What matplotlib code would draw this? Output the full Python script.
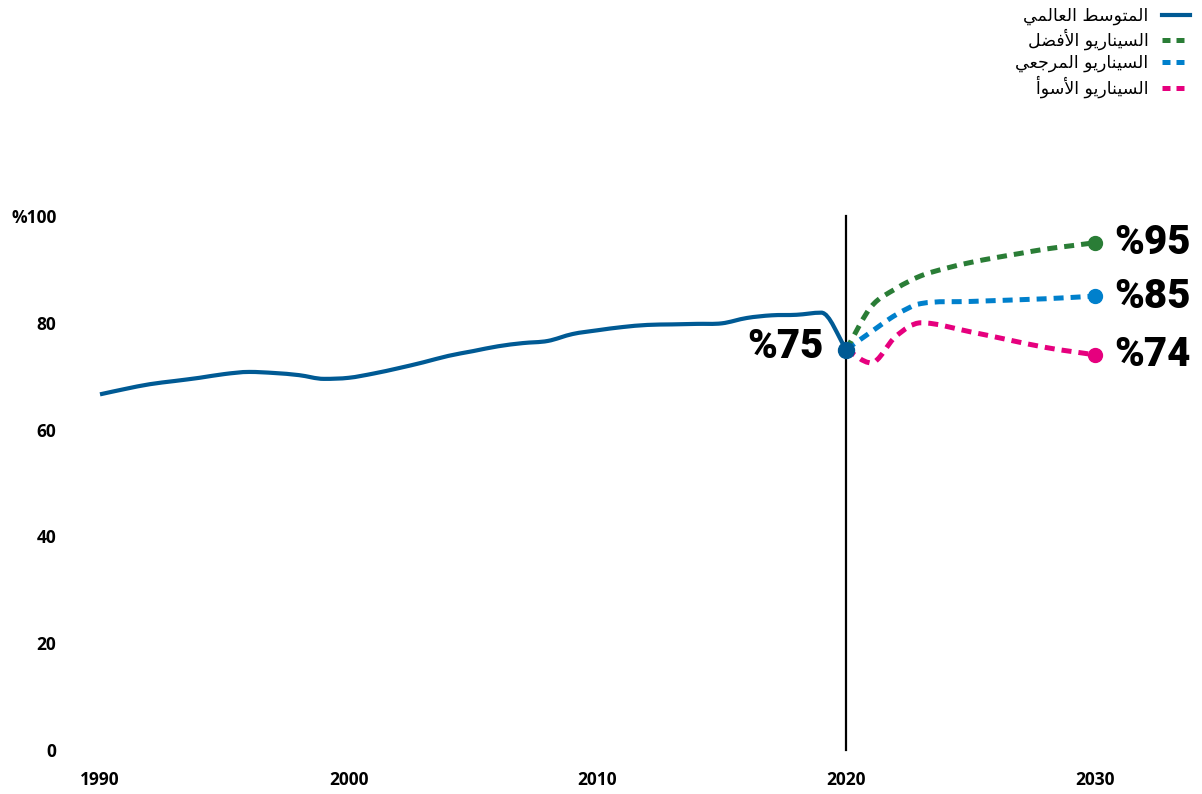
import matplotlib
matplotlib.use("Agg")
import matplotlib.pyplot as plt
from matplotlib.lines import Line2D
from matplotlib.path import Path
from matplotlib.patches import PathPatch
from matplotlib import font_manager

# ---------------- data ----------------
years = list(range(1990, 2021))
world_avg = [66.6, 67.6, 68.5, 69.1, 69.7, 70.4, 70.8, 70.6, 70.2, 69.5,
             69.7, 70.5, 71.5, 72.6, 73.8, 74.7, 75.6, 76.2, 76.6, 77.9,
             78.6, 79.2, 79.6, 79.7, 79.8, 79.9, 80.9, 81.4, 81.5, 81.9,
             75]

best_years = [2020, 2021, 2022, 2023, 2024, 2025, 2026, 2027, 2028, 2029, 2030]
best_vals = [75, 83.0, 86.4, 88.8, 90.2, 91.3, 92.2, 93.0, 93.8, 94.4, 95]

ref_years = [2020, 2021, 2022, 2023, 2025, 2028, 2030]
ref_vals = [75, 78.3, 81.5, 83.6, 84.0, 84.5, 85]

worst_years = [2020, 2021, 2022, 2023, 2025, 2028, 2030]
worst_vals = [75, 72.5, 77.5, 80.0, 78.3, 75.4, 74]

y_ticks = [0, 20, 40, 60, 80, 100]
y_tick_labels = ["0", "20", "40", "60", "80", "%100"]
x_ticks = [1990, 2000, 2010, 2020, 2030]

labels = ["المتوسط العالمي", "السيناريو الأفضل",
          "السيناريو المرجعي", "السيناريو الأسوأ"]

c_avg = "#005a94"
c_best = "#2a7d36"
c_ref = "#0080cc"
c_worst = "#e6007e"

# ---------------- Arabic shaping (presentation forms + visual order) ----------------
FORMS = {  # isolated, final, initial, medial
    "\u0627": ("\uFE8D", "\uFE8E", None, None),
    "\u0623": ("\uFE83", "\uFE84", None, None),
    "\u062A": ("\uFE95", "\uFE96", "\uFE97", "\uFE98"),
    "\u062C": ("\uFE9D", "\uFE9E", "\uFE9F", "\uFEA0"),
    "\u0631": ("\uFEAD", "\uFEAE", None, None),
    "\u0633": ("\uFEB1", "\uFEB2", "\uFEB3", "\uFEB4"),
    "\u0636": ("\uFEBD", "\uFEBE", "\uFEBF", "\uFEC0"),
    "\u0637": ("\uFEC1", "\uFEC2", "\uFEC3", "\uFEC4"),
    "\u0639": ("\uFEC9", "\uFECA", "\uFECB", "\uFECC"),
    "\u0641": ("\uFED1", "\uFED2", "\uFED3", "\uFED4"),
    "\u0644": ("\uFEDD", "\uFEDE", "\uFEDF", "\uFEE0"),
    "\u0645": ("\uFEE1", "\uFEE2", "\uFEE3", "\uFEE4"),
    "\u0646": ("\uFEE5", "\uFEE6", "\uFEE7", "\uFEE8"),
    "\u0648": ("\uFEED", "\uFEEE", None, None),
    "\u064A": ("\uFEF1", "\uFEF2", "\uFEF3", "\uFEF4"),
}
LAM_ALEF = {"\u0627": ("\uFEFB", "\uFEFC"), "\u0623": ("\uFEF7", "\uFEF8")}


def dual(ch):
    return ch in FORMS and FORMS[ch][2] is not None


def shape(text):
    out = []
    chars = list(text)
    i = 0
    while i < len(chars):
        ch = chars[i]
        prev = chars[i - 1] if i > 0 else None
        joins_prev = prev is not None and dual(prev)
        if ch == "\u0644" and i + 1 < len(chars) and chars[i + 1] in LAM_ALEF:
            iso, fin = LAM_ALEF[chars[i + 1]]
            out.append(fin if joins_prev else iso)
            i += 2
            continue
        if ch not in FORMS:
            out.append(ch)
            i += 1
            continue
        nxt = chars[i + 1] if i + 1 < len(chars) else None
        joins_next = dual(ch) and nxt is not None and nxt in FORMS
        iso, fin, ini, med = FORMS[ch]
        if joins_prev and joins_next:
            out.append(med)
        elif joins_prev:
            out.append(fin)
        elif joins_next:
            out.append(ini)
        else:
            out.append(iso)
        i += 1
    return "".join(reversed(out))


def smooth_path(xs, ys):
    """Monotone cubic curve through the data points, as Bezier segments."""
    n = len(xs)
    slopes = []
    for i in range(n):
        if i == 0:
            m = (ys[1] - ys[0]) / (xs[1] - xs[0])
        elif i == n - 1:
            m = (ys[-1] - ys[-2]) / (xs[-1] - xs[-2])
        elif (ys[i] - ys[i - 1]) * (ys[i + 1] - ys[i]) <= 0:
            m = 0.0
        else:
            m = (ys[i + 1] - ys[i - 1]) / (xs[i + 1] - xs[i - 1])
        slopes.append(m)
    verts = [(xs[0], ys[0])]
    codes = [Path.MOVETO]
    for i in range(n - 1):
        dx = (xs[i + 1] - xs[i]) / 3
        verts += [(xs[i] + dx, ys[i] + slopes[i] * dx),
                  (xs[i + 1] - dx, ys[i + 1] - slopes[i + 1] * dx),
                  (xs[i + 1], ys[i + 1])]
        codes += [Path.CURVE4] * 3
    return Path(verts, codes)


# heavy face for the value callouts
installed = {f.name for f in font_manager.fontManager.ttflist}
big_family = ["Roboto"] if "Roboto" in installed else ["DejaVu Sans"]

# ---------------- figure ----------------
W, H = 1202, 794
fig = plt.figure(figsize=(W / 100, H / 100), dpi=100)

px_per_year = (1095 - 100) / 40
left_px, right_px = 62, 1196
bottom_px, top_px = 750, 216
ax = fig.add_axes([left_px / W, 1 - bottom_px / H,
                   (right_px - left_px) / W, (bottom_px - top_px) / H])
ax.set_xlim(1990 - (100 - left_px) / px_per_year,
            2030 + (right_px - 1095) / px_per_year)
ax.set_ylim(0, 100)

for s in ax.spines.values():
    s.set_visible(False)

tick_font = dict(family=["Open Sans", "DejaVu Sans"], weight="bold", size=12.5)
ax.set_yticks(y_ticks)
ax.set_yticklabels(y_tick_labels, **tick_font)
ax.set_xticks(x_ticks)
ax.set_xticklabels([str(x) for x in x_ticks], **tick_font)
ax.tick_params(axis="both", length=0)
ax.tick_params(axis="y", pad=4)
ax.tick_params(axis="x", pad=15)

# 2020 divider
ax.plot([2020, 2020], [0, 100], color="black", lw=1.6, clip_on=False, zorder=2)

dash = (0, (2.0, 1.4))
for yrs, vals, col in [(worst_years, worst_vals, c_worst),
                       (ref_years, ref_vals, c_ref),
                       (best_years, best_vals, c_best)]:
    ax.add_patch(PathPatch(smooth_path(yrs, vals), fill=False, edgecolor=col,
                           lw=3.6, linestyle=dash, capstyle="butt",
                           clip_on=False, zorder=3))
ax.add_patch(PathPatch(smooth_path(years, world_avg), fill=False,
                       edgecolor=c_avg, lw=3.0, joinstyle="round",
                       capstyle="butt", clip_on=False, zorder=4))

big_font = dict(fontsize=29, fontweight=900, family=big_family,
                color="black")

# end points
for yrs, vals, col in [(best_years, best_vals, c_best),
                       (ref_years, ref_vals, c_ref),
                       (worst_years, worst_vals, c_worst)]:
    ax.plot([yrs[-1]], [vals[-1]], "o", color=col, ms=10, clip_on=False, zorder=5)
    ax.annotate(f"%{vals[-1]}", (yrs[-1], vals[-1]), xytext=(14, 0),
                textcoords="offset points", ha="left", va="center",
                **big_font)

ax.plot([years[-1]], [world_avg[-1]], "o", color=c_avg, ms=11.5,
        clip_on=False, zorder=6)
ax.annotate(f"%{world_avg[-1]}", (years[-1], world_avg[-1]), xytext=(-16, 2),
            textcoords="offset points", ha="right", va="center", **big_font)

# legend
handles = [
    Line2D([], [], color=c_avg, lw=3.0),
    Line2D([], [], color=c_best, lw=3.6, dashes=(1.6, 1.2)),
    Line2D([], [], color=c_ref, lw=3.6, dashes=(1.6, 1.2)),
    Line2D([], [], color=c_worst, lw=3.6, dashes=(1.6, 1.2)),
]
fig.legend(handles, [shape(t) for t in labels], loc="upper right",
           bbox_to_anchor=(1190 / W, 1 - 7 / H), frameon=False,
           markerfirst=False, handlelength=1.6, handletextpad=0.8,
           labelspacing=0.2, borderaxespad=0, borderpad=0,
           prop=dict(family=["DejaVu Sans"], size=12.5))

fig.savefig("out.png", dpi=100, facecolor="white")
